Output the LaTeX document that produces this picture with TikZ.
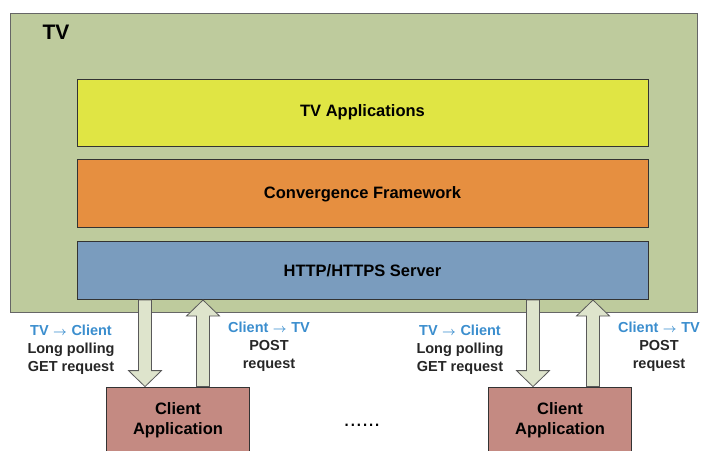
\documentclass[tikz,border=0pt]{standalone}
\usepackage{fontspec}
\setmainfont{Liberation Sans}
\usetikzlibrary{calc,positioning}

\definecolor{tvgreen}{HTML}{BECB9D}
\definecolor{appyellow}{HTML}{E0E544}
\definecolor{convorange}{HTML}{E68F40}
\definecolor{serverblue}{HTML}{7A9CBE}
\definecolor{clientpink}{HTML}{C48A82}
\definecolor{arrowfill}{HTML}{DEE4CC}
\definecolor{flowblue}{HTML}{3B8ECE}

% the small arrow in the blue texts
\newcommand{\toarrow}{\hspace{4.5pt}{\fontsize{12}{14}\selectfont\boldmath$\rightarrow$}\hspace{4.5pt}}

% fat vertical arrow from #1 to #2 (tip at #2)
\newcommand{\blockarrow}[2]{%
    \draw [fatarrow] let \p1=(#1), \p2=(#2), \n1={sign(\y2-\y1)} in
        ({\x1-6.5pt},\y1) -- ({\x1-6.5pt},{\y2-\n1*16pt}) -- ({\x1-16.5pt},{\y2-\n1*16pt})
        -- (\x1,\y2) -- ({\x1+16.5pt},{\y2-\n1*16pt}) -- ({\x1+6.5pt},{\y2-\n1*16pt})
        -- ({\x1+6.5pt},\y1) -- cycle;}

\begin{document}
\begin{tikzpicture}[
    % GLOBAL CFG
    x=1pt, y=-1pt,
    font=\bfseries,
    % Styles
    tvbox/.style={% For the TV frame
        rectangle,
        draw=black!60,
        line width=0.9pt,
        fill=tvgreen,
        minimum width=687pt,
        minimum height=299pt,
        },
    layer/.style={% For the stacked layers
        rectangle,
        draw=black!80,
        line width=0.8pt,
        inner sep=0pt,
        minimum width=571pt,
        font=\fontsize{16.5}{19}\selectfont\bfseries,
        },
    client/.style={% For the client apps
        rectangle,
        draw=black!80,
        line width=0.8pt,
        fill=clientpink,
        align=center,
        minimum width=143pt,
        minimum height=66pt,
        font=\fontsize{16.5}{20}\selectfont\bfseries,
        },
    flowlabel/.style={% texts next to the arrows
        align=center,
        inner sep=0pt,
        text=black!85,
        font=\fontsize{14.5}{18}\selectfont\bfseries,
        },
    fatarrow/.style={% block arrows
        draw=black!65,
        line width=0.8pt,
        fill=arrowfill,
        },
    ]

    \useasboundingbox (0,0) rectangle (701,450);
    \clip (0,0) rectangle (701,450);

    % Draw the TV frame
    \node [tvbox] (tv) at (353.5,162.5) {};
    \node [font=\fontsize{21}{24}\selectfont\bfseries] (tvname) at (56,32) {TV};

    % Draw the layers
    \node [layer, fill=appyellow, minimum height=67pt] (apps) at (362.5,112.5) {TV Applications};
    \node [layer, fill=convorange, minimum height=68pt, below=13pt of apps] (conv) {Convergence Framework};
    \node [layer, fill=serverblue, minimum height=58pt, below=13pt of conv] (server) {HTTP/HTTPS Server};

    % Draw the clients
    \node [client] (client1) at (178,420) {Client\\Application};
    \node [client] (client2) at (560,420) {Client\\Application};
    \node [font=\fontsize{22}{24}\selectfont\mdseries] (dots) at (362,425) {......};

    % x positions of the arrows
    \coordinate (get1) at (145,0);
    \coordinate (post1) at (203,0);
    \coordinate (get2) at (533,0);
    \coordinate (post2) at (593,0);

    % Drawing arrows
    \blockarrow{get1 |- server.south}{get1 |- client1.north}
    \blockarrow{post1 |- client1.north}{post1 |- server.south}
    \blockarrow{get2 |- server.south}{get2 |- client2.north}
    \blockarrow{post2 |- client2.north}{post2 |- server.south}

    % Labels
    \node [flowlabel] (get1lbl) at (71,350) {\textcolor{flowblue}{TV\toarrow Client}\\Long polling\\GET request};
    \node [flowlabel] (post1lbl) at (269,347) {\textcolor{flowblue}{Client\toarrow TV}\\POST\\request};
    \node [flowlabel] (get2lbl) at (460,350) {\textcolor{flowblue}{TV\toarrow Client}\\Long polling\\GET request};
    \node [flowlabel] (post2lbl) at (659,347) {\textcolor{flowblue}{Client\toarrow TV}\\POST\\request};

\end{tikzpicture}
\end{document}
